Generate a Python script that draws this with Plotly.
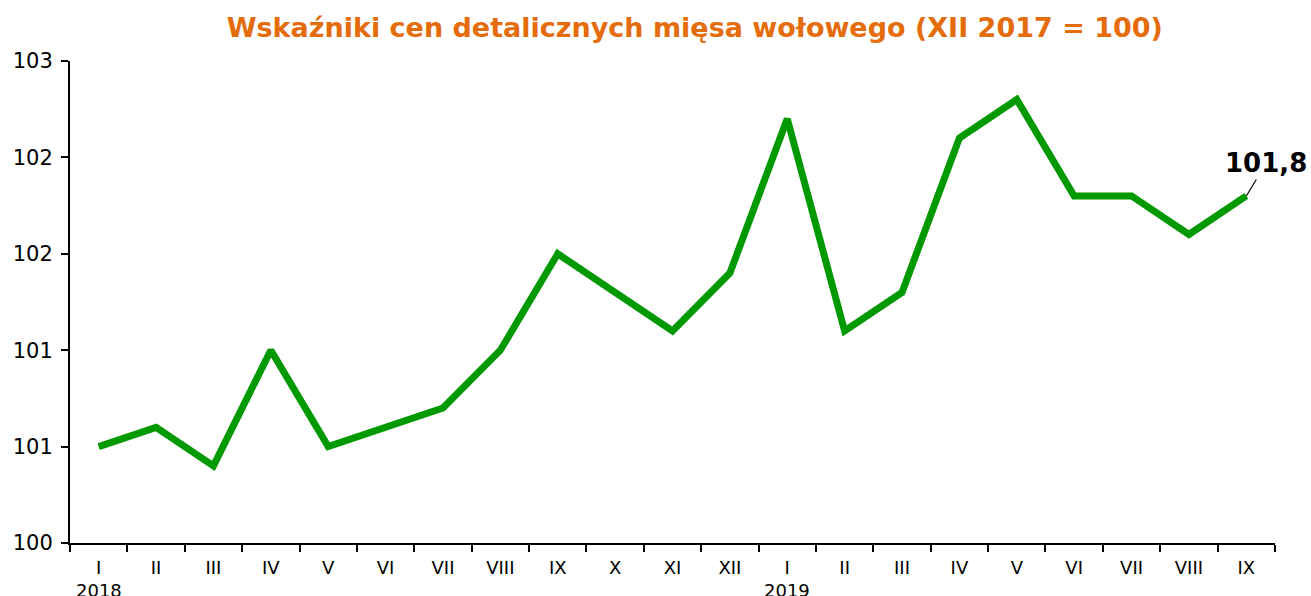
import plotly.graph_objects as go

months = ["I", "II", "III", "IV", "V", "VI", "VII", "VIII", "IX", "X", "XI", "XII",
          "I", "II", "III", "IV", "V", "VI", "VII", "VIII", "IX"]
years = ["2018"] * 12 + ["2019"] * 9
values = [100.5, 100.6, 100.4, 101.0, 100.5, 100.6, 100.7, 101.0, 101.5, 101.3, 101.1, 101.4,
          102.2, 101.1, 101.3, 102.1, 102.3, 101.8, 101.8, 101.6, 101.8]
y_tickvals = [100, 100.5, 101, 101.5, 102, 102.5]
y_ticktext = ["100", "101", "101", "102", "102", "103"]
last_label = "101,8"
title = "Wskaźniki cen detalicznych mięsa wołowego (XII 2017 = 100)"

cats = [f"{m} {y}" for m, y in zip(months, years)]

fig = go.Figure()
fig.add_trace(go.Scatter(x=cats, y=values, mode="lines",
                         line=dict(color="#009900", width=7), hoverinfo="skip"))

annotations = []
for i, (c, y) in enumerate(zip(cats, years)):
    if months[i] == "I":
        annotations.append(dict(x=c, y=0, xref="x", yref="paper", text=y, showarrow=False,
                                yanchor="middle", yshift=-47,
                                font=dict(family="DejaVu Sans", size=18, color="black")))
annotations.append(dict(x=cats[-1], y=values[-1], xref="x", yref="y", text=f"<b>{last_label}</b>",
                        showarrow=True, arrowhead=0, arrowwidth=1.2, arrowcolor="black",
                        ax=20, ay=-33, font=dict(family="DejaVu Sans", size=26, color="black")))

fig.update_layout(
    width=1311, height=596,
    margin=dict(l=70, r=36, t=61, b=53, autoexpand=False),
    paper_bgcolor="white", plot_bgcolor="white",
    showlegend=False,
    title=dict(text=f"<b>{title}</b>", x=0.53, xanchor="center", y=0.953, yanchor="middle",
               font=dict(family="DejaVu Sans", size=27, color="#E46C0A")),
    xaxis=dict(type="category", tickvals=cats, ticktext=months, tickson="boundaries",
               range=[-0.5, len(cats) - 0.5],
               ticks="outside", ticklen=7, tickwidth=2, tickcolor="black", ticklabelstandoff=7,
               showline=True, linecolor="black", linewidth=2, showgrid=False, automargin=False,
               tickfont=dict(family="DejaVu Sans", size=18, color="black")),
    yaxis=dict(range=[100, 102.5], tickvals=y_tickvals, ticktext=y_ticktext,
               ticks="outside", ticklen=7, tickwidth=2, tickcolor="black", automargin=False,
               ticklabelstandoff=4,
               showline=True, linecolor="black", linewidth=2, showgrid=False, zeroline=False,
               tickfont=dict(family="DejaVu Sans", size=21, color="black")),
    annotations=annotations,
)

fig.write_html("out.html", config={"displayModeBar": False},
               post_script="document.body.style.margin='0';document.body.style.overflow='hidden';")
